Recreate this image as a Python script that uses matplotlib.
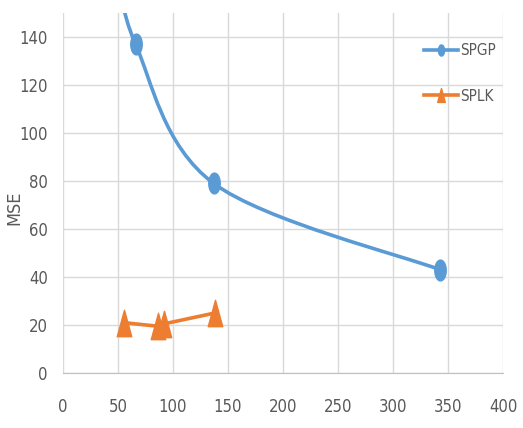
import numpy as np
import matplotlib
matplotlib.use("Agg")
import matplotlib.pyplot as plt
from matplotlib.path import Path
from matplotlib.patches import PathPatch

# series (first SPGP point lies above the plotted range)
spgp_x = [50, 66, 137, 343]
spgp_y = [168, 137, 79, 43]
splk_x = [55, 86, 92, 138]
splk_y = [21, 19.5, 20.5, 25]

x_ticks = [0, 50, 100, 150, 200, 250, 300, 350, 400]
y_ticks = [0, 20, 40, 60, 80, 100, 120, 140]

BLUE = "#5B9BD5"
ORANGE = "#ED7D31"
GRAY = "#595959"

plt.rcParams["font.family"] = ["DejaVu Sans"]
plt.rcParams["font.stretch"] = "condensed"

def smooth_path(xs, ys):
    # Catmull-Rom style bezier, similar to spreadsheet "smoothed line"
    pts = np.column_stack([xs, ys]).astype(float)
    verts = [pts[0]]
    codes = [Path.MOVETO]
    n = len(pts)
    for i in range(n - 1):
        p0 = pts[i - 1] if i > 0 else pts[i]
        p1, p2 = pts[i], pts[i + 1]
        p3 = pts[i + 2] if i + 2 < n else pts[i + 1]
        c1 = p1 + (p2 - p0) / 6
        c2 = p2 - (p3 - p1) / 6
        verts += [c1, c2, p2]
        codes += [Path.CURVE4] * 3
    return Path(verts, codes)

# the source picture is squeezed sideways, so markers look tall
t = np.linspace(0, 2 * np.pi, 40)
oval = Path(np.column_stack([0.55 * np.cos(t), np.sin(t)]), closed=True)
tall_tri = Path([(-0.55, -1), (0.55, -1), (0, 1), (-0.55, -1)], closed=True)

fig = plt.figure(figsize=(5.23, 4.28), dpi=100)
ax = fig.add_axes([0.1205, 0.1285, 0.8413, 0.841])

patch = PathPatch(smooth_path(spgp_x, spgp_y), facecolor="none", edgecolor=BLUE,
                  lw=2.6, capstyle="round", zorder=3)
ax.add_patch(patch)
ax.plot(spgp_x, spgp_y, ls="none", marker=oval, ms=15, color=BLUE, zorder=4)
ax.plot(splk_x, splk_y, color=ORANGE, lw=2.6, marker=tall_tri, ms=19, zorder=4)

# legend proxies
ax.plot([], [], color=BLUE, lw=2.6, marker=oval, ms=8, label="SPGP")
ax.plot([], [], color=ORANGE, lw=2.6, marker=tall_tri, ms=10, label="SPLK")
h, l = ax.get_legend_handles_labels()
ax.legend(h, l, loc="upper left", bbox_to_anchor=(0.79, 0.955), frameon=False,
          labelspacing=2.0, handlelength=2.2, handletextpad=0.15,
          fontsize=11, labelcolor=GRAY)

ax.set_xlim(0, 400)
ax.set_ylim(0, 150)
ax.set_xticks(x_ticks)
ax.set_yticks(y_ticks)
ax.grid(True, color="#D9D9D9", lw=1)
ax.set_axisbelow(True)
for s in ["top", "right", "left"]:
    ax.spines[s].set_visible(False)
ax.spines["bottom"].set_color("#BFBFBF")
ax.tick_params(length=0, labelsize=12, colors=GRAY)
ax.tick_params(axis="y", pad=11)
ax.tick_params(axis="x", pad=18)
ax.set_ylabel("MSE", fontsize=13, color=GRAY)
ax.yaxis.set_label_coords(-0.09, 0.46)

fig.savefig("out.png", dpi=100)
